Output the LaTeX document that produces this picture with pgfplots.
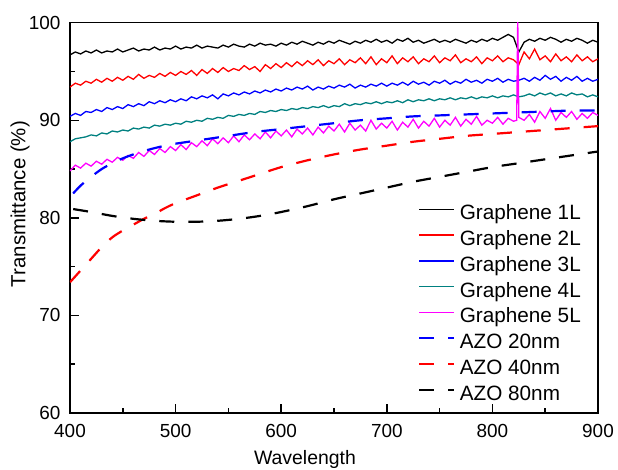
\documentclass[border=0pt]{standalone}
\usepackage{pgfplots}
\usepackage{pgfplotstable}
\pgfplotsset{compat=1.18}
\usepackage{fontspec}
\setmainfont{Liberation Sans}
\definecolor{gteal}{RGB}{0,128,128}
\definecolor{gmag}{RGB}{255,0,255}

\pgfplotstableread{
x g1 g2 g3 g4
400 96.7 93.4 90.4 87.8
405 97.0 93.8 90.7 88.1
410 96.8 93.6 90.5 88.2
415 97.1 94.0 90.9 88.3
420 96.9 93.8 90.8 88.5
425 97.2 94.2 91.1 88.4
430 96.9 93.9 90.9 88.7
435 97.1 94.3 91.3 88.6
440 97.0 94.0 91.1 88.9
445 97.3 94.4 91.4 88.8
450 97.0 94.1 91.2 89.0
455 97.2 94.5 91.6 88.9
460 97.4 94.2 91.4 89.2
465 97.1 94.7 91.7 89.1
470 97.3 94.3 91.5 89.3
475 97.2 94.6 91.9 89.2
480 97.5 94.4 91.7 89.5
485 97.2 94.8 92.0 89.4
490 97.4 94.5 91.8 89.6
495 97.3 94.9 92.1 89.5
500 97.6 94.6 91.9 89.7
505 97.3 95.0 92.2 89.6
510 97.5 94.7 92.0 89.9
515 97.4 95.1 92.4 89.8
520 97.7 94.6 92.2 90.0
525 97.4 95.2 92.5 89.9
530 97.6 94.8 92.3 90.2
535 97.5 95.3 92.6 90.1
540 97.4 94.9 92.2 90.3
545 97.7 95.4 92.7 90.2
550 97.5 95.0 92.5 90.5
555 97.8 95.3 92.8 90.4
560 97.6 95.1 92.6 90.6
565 97.5 95.6 92.9 90.5
570 97.8 95.2 92.7 90.7
575 97.6 95.5 93.0 90.6
580 97.9 95.0 92.8 90.9
585 97.7 95.7 93.1 90.8
590 97.8 95.3 92.9 91.0
595 97.6 95.8 93.2 90.9
600 97.9 95.4 93.0 91.1
605 97.7 95.9 93.3 91.0
610 98.0 95.5 93.1 91.2
615 97.8 96.0 93.4 91.1
620 98.1 95.6 93.2 91.3
625 97.9 96.1 93.5 91.2
630 97.7 95.7 93.1 91.4
635 98.0 96.2 93.4 91.3
640 97.8 95.6 93.2 91.5
645 98.1 96.1 93.5 91.3
650 97.9 95.8 93.3 91.5
655 98.2 96.3 93.6 91.4
660 98.0 95.7 93.4 91.7
665 97.8 96.2 93.7 91.5
670 98.1 95.9 93.3 91.7
675 97.9 96.4 93.6 91.6
680 98.2 95.8 93.4 91.8
685 98.0 96.5 93.7 91.7
690 98.3 95.7 93.5 91.9
695 98.0 96.3 93.8 91.7
700 98.2 95.9 93.5 91.9
705 97.9 96.6 93.8 91.8
710 98.3 95.8 93.6 92.0
715 98.1 96.4 93.9 91.8
720 98.4 96.0 93.6 92.1
725 98.0 96.5 94.0 91.9
730 98.2 95.8 93.7 92.1
735 97.9 96.3 93.9 92.0
740 98.1 96.0 93.6 92.2
745 98.3 96.6 94.0 92.0
750 98.0 95.9 93.8 92.2
755 98.2 96.4 94.1 92.1
760 98.0 96.1 93.7 92.3
765 98.3 96.7 94.0 92.1
770 98.1 95.9 93.8 92.3
775 97.9 96.3 94.2 92.2
780 98.2 96.0 93.9 92.4
785 98.0 96.5 94.1 92.2
790 98.3 95.8 93.8 92.4
795 98.1 96.4 94.2 92.3
800 98.4 96.1 94.0 92.5
805 98.2 96.6 94.3 92.3
810 98.5 96.0 93.9 92.5
815 98.8 96.4 94.2 92.4
820 98.5 96.2 94.0 92.6
825 97.0 95.7 94.1 92.4
830 98.0 97.0 94.3 92.5
835 98.3 96.3 94.0 92.7
840 98.1 97.3 94.4 92.5
845 98.4 96.2 94.1 92.8
850 98.2 96.6 94.6 92.6
855 98.5 96.0 94.2 92.8
860 98.3 96.8 94.5 92.5
865 98.0 96.1 94.0 92.7
870 98.3 96.5 94.4 92.5
875 98.1 96.0 94.1 92.8
880 98.4 96.7 94.5 92.6
885 98.2 96.1 94.0 92.7
890 97.9 96.5 94.3 92.4
895 98.2 96.0 94.0 92.6
900 98.0 96.3 94.2 92.4
}\graphene

\pgfplotstableread{
x y
400 84.8
405 85.4
410 85.1
415 85.6
420 85.3
425 85.8
430 85.5
435 86.0
440 85.7
445 86.2
450 85.9
455 86.4
460 86.1
465 86.7
470 86.3
475 86.9
480 86.5
485 87.1
490 86.7
495 87.3
500 86.9
505 87.5
510 87.0
515 87.7
520 87.3
525 87.9
530 87.4
535 88.1
540 87.6
545 88.2
550 87.7
555 88.4
560 87.8
565 88.5
570 88.0
575 88.6
580 88.1
585 88.8
590 88.2
595 88.9
600 88.4
605 89.0
610 88.3
615 89.1
620 88.6
625 89.2
630 88.5
635 89.3
640 88.7
645 89.4
650 88.9
655 89.6
660 88.8
665 89.7
670 89.0
675 89.5
680 88.9
685 90.0
690 89.1
695 89.7
700 89.2
705 89.9
710 89.0
715 89.8
720 89.3
725 90.1
730 89.2
735 89.9
740 89.4
745 90.2
750 89.3
755 90.0
760 89.5
765 90.3
770 89.4
775 90.1
780 89.6
785 90.4
790 89.5
795 90.0
800 89.7
805 90.3
810 89.6
815 90.2
820 89.9
823 90.0
824 100.5
825 90.3
830 90.0
835 90.6
840 89.8
845 90.9
850 90.2
855 91.2
860 90.0
865 90.8
870 90.3
875 90.9
880 90.1
885 90.7
890 90.2
895 90.8
900 90.5
}\gfive

\pgfplotstableread{
x y
403 82.5
410 83.3
420 84.2
430 85.0
440 85.6
450 86.1
460 86.5
475 87.0
490 87.4
500 87.6
525 88.0
550 88.4
575 88.8
600 89.1
625 89.4
650 89.7
675 90.0
700 90.2
725 90.4
750 90.5
775 90.6
800 90.7
825 90.8
850 90.9
875 91.0
900 91.0
}\azoA

\pgfplotstableread{
x y
400 73.4
410 74.6
420 75.8
430 77.0
440 78.0
450 78.7
460 79.3
470 79.9
480 80.4
490 81.0
500 81.5
520 82.3
540 83.1
560 83.8
580 84.5
600 85.2
625 85.9
650 86.5
675 87.0
700 87.4
725 87.8
750 88.1
775 88.4
800 88.6
825 88.8
850 89.0
875 89.2
900 89.4
}\azoB

\pgfplotstableread{
x y
403 80.9
420 80.6
440 80.2
460 79.9
480 79.7
500 79.6
520 79.6
540 79.7
560 79.9
580 80.2
600 80.6
625 81.2
650 81.9
675 82.5
700 83.1
725 83.7
750 84.2
775 84.7
800 85.2
825 85.6
850 86.0
875 86.4
900 86.8
}\azoC

\begin{document}
\begin{tikzpicture}
\begin{axis}[
  scale only axis, width=528bp, height=390.3bp,
  xmin=400, xmax=900, ymin=60, ymax=100,
  xtick={400,500,...,900}, ytick={60,70,...,100},
  minor x tick num=1, minor y tick num=1,
  tick align=inside, xtick pos=left, ytick pos=left,
  major tick length=9bp, minor tick length=5bp,
  axis line style={line width=1.6bp},
  every tick/.style={black, line width=1.5bp},
  /pgf/number format/assume math mode=true,
  tick label style={font=\fontsize{19}{22}\selectfont},
  xticklabel style={yshift=-8bp},
  yticklabel style={xshift=-6bp},
  xlabel={Wavelength}, ylabel={Transmittance (\%)},
  xlabel style={font=\fontsize{19.5}{22}\selectfont, at={(axis description cs:0.445,-0.1307)}, anchor=base},
  ylabel style={font=\fontsize{20.5}{24}\selectfont, at={(axis description cs:-0.0947,0.535)}, anchor=center},
  legend cell align=left,
  legend image code/.code={\draw[#1] (0bp,5.5bp) -- (35bp,5.5bp);},
  legend style={draw=none, fill=none, at={(axis description cs:0.659,0.534)}, anchor=north west,
    font=\fontsize{20.8}{22}\selectfont, inner sep=0pt, row sep=5.8bp,
    nodes={inner ysep=0.5bp, inner xsep=4.5bp, text height=14.5bp, text depth=4.5bp}},
  clip=true,
]
\addplot[black, line width=1.3bp] table[x=x, y=g1] {\graphene};
\addplot[red, line width=1.3bp] table[x=x, y=g2] {\graphene};
\addplot[blue, line width=1.3bp] table[x=x, y=g3] {\graphene};
\addplot[gteal, line width=1.3bp] table[x=x, y=g4] {\graphene};
\addplot[gmag, line width=1.3bp] table[x=x, y=y] {\gfive};
\addplot[blue, line width=2.2bp, dash pattern=on 15bp off 14bp, smooth] table[x=x, y=y] {\azoA};
\addplot[red, line width=2.2bp, dash pattern=on 15bp off 14bp, smooth] table[x=x, y=y] {\azoB};
\addplot[black, line width=2.2bp, dash pattern=on 15bp off 14bp, smooth] table[x=x, y=y] {\azoC};
\addlegendimage{draw=black, line width=1.8bp}
\addlegendentry{Graphene 1L}
\addlegendimage{draw=red, line width=1.8bp}
\addlegendentry{Graphene 2L}
\addlegendimage{draw=blue, line width=1.8bp}
\addlegendentry{Graphene 3L}
\addlegendimage{draw=gteal, line width=1.8bp}
\addlegendentry{Graphene 4L}
\addlegendimage{draw=gmag, line width=1.8bp}
\addlegendentry{Graphene 5L}
\addlegendimage{draw=blue, line width=2.2bp, dash pattern=on 15bp off 14bp}
\addlegendentry{AZO 20nm}
\addlegendimage{draw=red, line width=2.2bp, dash pattern=on 15bp off 14bp}
\addlegendentry{AZO 40nm}
\addlegendimage{draw=black, line width=2.2bp, dash pattern=on 15bp off 14bp}
\addlegendentry{AZO 80nm}
\end{axis}
\pgfresetboundingbox
\path[use as bounding box] ([xshift=-70bp,yshift=-57bp]current axis.south west) rectangle ([xshift=20bp,yshift=22.7bp]current axis.north east);
\end{tikzpicture}
\end{document}
